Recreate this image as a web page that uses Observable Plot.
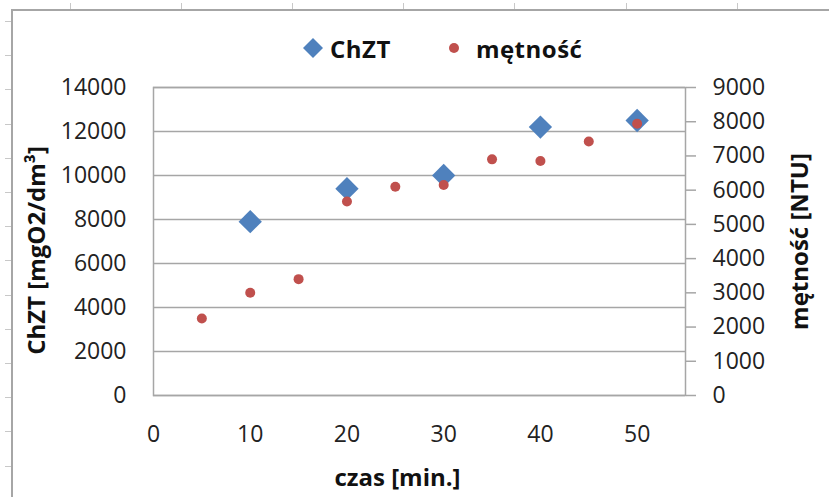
<!DOCTYPE html>
<html>
<head>
<meta charset="utf-8">
<script src="https://cdn.jsdelivr.net/npm/d3@7"></script>
<script src="https://cdn.jsdelivr.net/npm/@observablehq/plot@0.6"></script>
<style>
  html, body { margin: 0; padding: 0; background: #fff; }
  body { font-family: "Open Sans", sans-serif; }
  #wrap { position: relative; width: 829px; height: 497px; overflow: hidden; background: #fff; }
  #frame { position: absolute; left: 11px; top: 9px; right: -10px; bottom: -10px;
           border-left: 2px solid #a6a6a6; border-top: 2px solid #a6a6a6; }
  .stub { position: absolute; background: #c8c8c8; }
  #legend { position: absolute; top: 30px; left: 302px; height: 36px; display: flex; align-items: center;
            font-weight: bold; font-size: 24px; color: #111; white-space: nowrap; }
  #legend svg { display: block; }
  #chart { position: absolute; left: 0; top: 70px; }
</style>
</head>
<body>
<div id="wrap">
  <div id="frame"></div>
  <div id="legend">
    <svg width="22" height="22" viewBox="-11 -11 22 22"><path d="M0,-10L10,0L0,10L-10,0Z" fill="#4F81BD"/></svg>
    <span style="margin-left:6px;letter-spacing:0.5px">ChZT</span>
    <svg width="12" height="12" viewBox="-6 -6 12 12" style="margin-left:57px"><circle r="5" fill="#C0504D"/></svg>
    <span style="margin-left:16px;letter-spacing:0.5px">mętność</span>
  </div>
  <div id="chart"></div>
</div>
<script>
// ---- data ----
const czasChZT = [10, 20, 30, 40, 50];
const chzt = [7900, 9400, 10000, 12200, 12500];
const czasMetnosc = [5, 10, 15, 20, 25, 30, 35, 40, 45, 50];
const metnosc = [2250, 3000, 3400, 5670, 6100, 6150, 6900, 6850, 7420, 7940];
const leftTicks = [0, 2000, 4000, 6000, 8000, 10000, 12000, 14000];
const rightTicks = [0, 1000, 2000, 3000, 4000, 5000, 6000, 7000, 8000, 9000];
const xTicks = [0, 10, 20, 30, 40, 50];
const leftMax = 14000, rightMax = 9000;
const k = leftMax / rightMax;

// decorative spreadsheet gridline stubs
const wrap = document.getElementById("wrap");
for (let y = 21; y < 497; y += 34.2) {
  const s = document.createElement("div");
  s.className = "stub";
  s.style.cssText = `left:5px;top:${Math.round(y)}px;width:6px;height:1px`;
  wrap.appendChild(s);
}
for (let x = 70; x < 829; x += 111.1) {
  const s = document.createElement("div");
  s.className = "stub";
  s.style.cssText = `left:${Math.round(x)}px;top:3px;width:1px;height:6px`;
  wrap.appendChild(s);
}

const chztData = czasChZT.map((x, i) => ({x, y: chzt[i]}));
const metData = czasMetnosc.map((x, i) => ({x, y: metnosc[i]}));

const grid = "#a6a6a6";
const chart = Plot.plot({
  width: 829,
  height: 427,
  marginLeft: 153,
  marginRight: 144,
  marginTop: 17,
  marginBottom: 102,
  x: {domain: [0, 55]},
  y: {domain: [0, leftMax]},
  style: {fontFamily: "Open Sans, sans-serif", fontSize: "23px", color: "#222", background: "transparent", overflow: "visible"},
  marks: [
    Plot.gridY(leftTicks, {stroke: grid, strokeOpacity: 1, strokeWidth: 1.5}),
    Plot.frame({stroke: grid, strokeWidth: 1.5}),
    Plot.axisY(leftTicks, {anchor: "left", tickSize: 0, tickPadding: 27, label: null,
      tickFormat: d => String(d), fontSize: 23}),
    Plot.axisY(rightTicks.map(v => v * k), {anchor: "right", tickSize: 10, tickPadding: 17, label: null,
      stroke: grid, strokeWidth: 1.5, fill: "#222", tickFormat: d => String(Math.round(d / k)), fontSize: 23}),
    Plot.axisX(xTicks, {anchor: "bottom", tickSize: 0, tickPadding: 30, label: null,
      tickFormat: d => String(d), fontSize: 23}),
    Plot.dot(chztData, {x: "x", y: "y", symbol: "diamond2", r: 10.5, fill: "#4F81BD", stroke: "none"}),
    Plot.dot(metData, {x: "x", y: d => d.y * k, r: 5, fill: "#C0504D", stroke: "none"}),
    Plot.text(["ChZT [mgO2/dm³]"], {frameAnchor: "left", rotate: -90, dx: -116, dy: 9,
      fontWeight: "bold", fontSize: 24, fill: "#111", textAnchor: "middle", lineAnchor: "middle",
      letterSpacing: "1.2px"}),
    Plot.text(["mętność [NTU]"], {frameAnchor: "right", rotate: -90, dx: 115, dy: 0,
      fontWeight: "bold", fontSize: 24, fill: "#111", textAnchor: "middle", lineAnchor: "middle",
      letterSpacing: "1.2px"}),
    Plot.text(["czas [min.]"], {frameAnchor: "bottom", dx: -22, dy: 83,
      fontWeight: "bold", fontSize: 24, fill: "#111", textAnchor: "middle", lineAnchor: "middle"})
  ]
});
document.getElementById("chart").appendChild(chart);
</script>
</body>
</html>
